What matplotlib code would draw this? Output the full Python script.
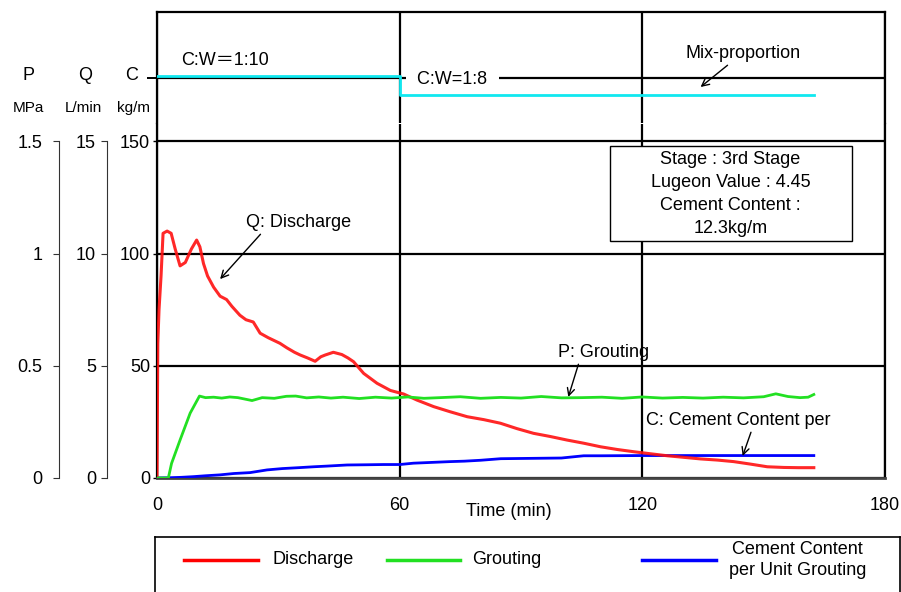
import matplotlib
matplotlib.use("Agg")
import matplotlib.pyplot as plt
from matplotlib.patches import Rectangle

plt.rcParams["font.family"] = ["Liberation Sans", "Noto Sans CJK JP"]

# elapsed time (min) and readings
time_q = [0, 0.2, 0.5, 1.0, 1.5, 2.5, 3.5, 4.5, 5.7, 7.0, 8.5, 9.8, 10.6, 11.5,
          12.5, 14.0, 15.6, 17.2, 18.5, 20.5, 22.0, 23.8, 25.5, 27.5, 30.4, 32.1,
          34.0, 35.4, 37.2, 39.1, 40.5, 41.6, 43.6, 45.7, 47.2, 48.6, 51.1, 54.4,
          57.7, 61.0, 64.3, 68.4, 72.5, 76.7, 80.8, 84.9, 89.0, 93.1, 97.2, 101.4,
          105.5, 109.7, 113.8, 117.9, 122.0, 126.2, 130.3, 134.4, 138.5, 142.6,
          146.7, 150.9, 155.0, 158.6, 162.4]
discharge = [0, 6.0, 7.5, 9.0, 10.9, 11.0, 10.9, 10.2, 9.45, 9.6, 10.2, 10.6, 10.3,
             9.55, 9.0, 8.5, 8.1, 7.95, 7.65, 7.25, 7.05, 6.95, 6.45, 6.25, 6.0, 5.8,
             5.6, 5.48, 5.35, 5.2, 5.4, 5.48, 5.6, 5.5, 5.35, 5.18, 4.66, 4.22, 3.9,
             3.74, 3.47, 3.18, 2.95, 2.73, 2.6, 2.44, 2.2, 1.99, 1.85, 1.69, 1.55,
             1.39, 1.27, 1.17, 1.08, 0.99, 0.92, 0.85, 0.8, 0.73, 0.62, 0.5, 0.47,
             0.46, 0.46]  # L/min

time_p = [0, 2.8, 3.6, 5.7, 8.2, 10.5, 12, 14, 16, 18, 20, 23.5, 26, 29, 32, 34.3,
          37, 40, 43, 46, 50, 54, 58, 62, 66, 70, 75, 80, 85, 90, 95, 100, 105, 110,
          115, 120, 125, 130, 135, 140, 145, 150, 153, 156, 159, 161, 162.4]
pressure = [0, 0, 0.065, 0.169, 0.289, 0.365, 0.358, 0.360, 0.356, 0.361, 0.358,
            0.345, 0.358, 0.355, 0.364, 0.365, 0.357, 0.361, 0.356, 0.360, 0.354,
            0.360, 0.356, 0.361, 0.355, 0.358, 0.362, 0.355, 0.359, 0.356, 0.363,
            0.357, 0.358, 0.360, 0.355, 0.361, 0.356, 0.359, 0.356, 0.360, 0.357,
            0.362, 0.375, 0.363, 0.358, 0.360, 0.372]  # MPa

time_c = [0, 3, 6, 9, 12, 15.6, 19, 23, 27.2, 31, 35, 38.7, 42, 47, 52, 56, 60,
          63.4, 66, 72.5, 76, 80, 85, 90, 95, 100, 105.5, 110, 120, 130, 140, 150,
          162.4]
cement = [0, 0.1, 0.3, 0.6, 1.0, 1.4, 2.0, 2.4, 3.6, 4.2, 4.6, 5.0, 5.3, 5.8, 5.9,
          6.0, 6.0, 6.6, 6.8, 7.3, 7.5, 7.9, 8.6, 8.7, 8.8, 8.9, 9.9, 9.9, 10.0,
          10.0, 10.0, 10.0, 10.0]  # kg/m

# mix proportion C:W = 1:n, n = water parts
mix_time = [0, 60, 162.4]
water_parts = [10, 8, 8]

time_ticks = [0, 60, 120, 180]
c_ticks = [0, 50, 100, 150]
q_ticks = [0, 5, 10, 15]
p_ticks = [0, 0.5, 1, 1.5]

W, H = 901, 592
fig = plt.figure(figsize=(W / 100, H / 100), dpi=100)

left, right = 157, 885
grid_kw = dict(color="black", linewidth=1.6)

# lower panel: C axis (kg/m) is the main scale
ax = fig.add_axes([left / W, (H - 478) / H, (right - left) / W, 354 / H])
ax.set_xlim(0, 180)
ax.set_ylim(0, 157.7)
ax.set_xticks(time_ticks)
ax.set_yticks(c_ticks)
ax.grid(True, **grid_kw)
ax.tick_params(axis="x", length=0, pad=14, labelsize=13)
ax.tick_params(axis="y", length=3, pad=2, labelsize=13, width=1)
for side in ["left", "right"]:
    ax.spines[side].set_linewidth(1.6)
ax.spines["bottom"].set_linewidth(2)
ax.spines["bottom"].set_color("#444444")
ax.spines["top"].set_visible(False)
ax.plot(time_c, cement, color="#0000ff", linewidth=2, zorder=3)

# Q axis (L/min)
ax_q = ax.twinx()
ax_q.set_ylim(0, 15.77)
ax_q.set_yticks(q_ticks)
ax_q.yaxis.set_ticks_position("left")
ax_q.yaxis.set_label_position("left")
for side in ["top", "bottom", "right"]:
    ax_q.spines[side].set_visible(False)
ax_q.spines["left"].set_position(("outward", 36))
ax_q.spines["left"].set_bounds(0, 15)
ax_q.spines["left"].set_color("#333333")
ax_q.tick_params(axis="y", length=4, pad=4, labelsize=13, color="#333333")
ax_q.plot(time_q, discharge, color="#ff1010", linewidth=2.2, alpha=0.9)

# P axis (MPa)
ax_p = ax.twinx()
ax_p.set_ylim(0, 1.577)
ax_p.set_yticks(p_ticks)
ax_p.set_yticklabels(["0", "0.5", "1", "1.5"])
ax_p.yaxis.set_ticks_position("left")
ax_p.yaxis.set_label_position("left")
for side in ["top", "bottom", "right"]:
    ax_p.spines[side].set_visible(False)
ax_p.spines["left"].set_position(("outward", 70.5))
ax_p.spines["left"].set_bounds(0, 1.5)
ax_p.spines["left"].set_color("#333333")
ax_p.tick_params(axis="y", length=4, pad=8, labelsize=13, color="#333333")
ax_p.plot(time_p, pressure, color="#22e022", linewidth=2)

# upper panel: mix proportion
ax_mix = fig.add_axes([left / W, (H - 123) / H, (right - left) / W, 111 / H])
ax_mix.set_xlim(0, 180)
ax_mix.set_ylim(5.05, 16.74)
ax_mix.set_xticks(time_ticks)
ax_mix.set_yticks([9.79])
ax_mix.set_yticklabels([])
ax_mix.set_xticklabels([])
ax_mix.grid(True, **grid_kw)
ax_mix.tick_params(axis="x", length=0)
ax_mix.tick_params(axis="y", length=7, width=1.4)
for side in ["left", "right", "top"]:
    ax_mix.spines[side].set_linewidth(1.6)
ax_mix.spines["bottom"].set_visible(False)
ax_mix.plot(mix_time, water_parts, drawstyle="steps-post", color="#10e8f0",
            linewidth=2, zorder=4)

ax_mix.text(16.8, 11.58, "C:W＝1:10", fontsize=13, ha="center", va="center")
ax_mix.text(73.0, 9.58, "  C:W=1:8  ", fontsize=13, ha="center", va="center",
            bbox=dict(facecolor="white", edgecolor="none", pad=1), zorder=3)
ax_mix.annotate("Mix-proportion", xy=(134.4, 8.84), xytext=(145.0, 12.32),
                fontsize=13, ha="center", va="center",
                arrowprops=dict(arrowstyle="->", color="black", lw=1,
                                relpos=(0.41, 0.1), shrinkA=0, shrinkB=0))

# curve labels
arrow_kw = dict(arrowstyle="->", color="black", lw=1, shrinkA=0, shrinkB=0)
ax.annotate("Q: Discharge", xy=(15.6, 88.6), xytext=(34.9, 113.6), fontsize=13,
            ha="center", va="center", arrowprops=dict(relpos=(0.18, 0.1), **arrow_kw))
ax.annotate("P: Grouting", xy=(101.7, 36.1), xytext=(110.4, 55.7), fontsize=13,
            ha="center", va="center", arrowprops=dict(relpos=(0.24, 0.1), **arrow_kw))
ax.annotate("C: Cement Content per", xy=(144.8, 9.8), xytext=(143.6, 25.4),
            fontsize=13, ha="center", va="center",
            arrowprops=dict(relpos=(0.58, 0.1), **arrow_kw))

# summary box
ax.add_patch(Rectangle((111.9, 105.6), 59.9, 42.3, facecolor="white",
                       edgecolor="black", linewidth=1, zorder=3))
ax.text(141.8, 126.5, "Stage : 3rd Stage\nLugeon Value : 4.45\nCement Content :\n12.3kg/m",
        fontsize=13, ha="center", va="center", multialignment="center",
        linespacing=1.45, zorder=4)

# axis headers
for x, s in [(28, "P"), (85, "Q"), (132, "C")]:
    fig.text(x / W, 1 - 76 / H, s, fontsize=13, ha="center", va="center")
for x, s in [(28, "MPa"), (83, "L/min"), (133, "kg/m")]:
    fig.text(x / W, 1 - 108 / H, s, fontsize=11, ha="center", va="center")
fig.text(509 / W, 1 - 512 / H, "Time (min)", fontsize=13, ha="center", va="center")

# legend strip
ax_leg = fig.add_axes([155 / W, 0, 745 / W, 55 / H])
ax_leg.set_xlim(155, 900)
ax_leg.set_ylim(592, 537)
ax_leg.set_xticks([])
ax_leg.set_yticks([])
ax_leg.spines["bottom"].set_visible(False)
for side in ["left", "top", "right"]:
    ax_leg.spines[side].set_linewidth(1.2)
legend_items = [((184, 258), "#ff0000", 272, "Discharge"),
                ((387, 460), "#22e022", 472, "Grouting"),
                ((642, 716), "#0000ff", 729, "Cement Content\nper Unit Grouting")]
for (x0, x1), color, tx, label in legend_items:
    ax_leg.plot([x0, x1], [560, 560], color=color, linewidth=2.5)
    ax_leg.text(tx, 560, label, fontsize=13, ha="left", va="center",
                multialignment="center", linespacing=1.35)

fig.savefig("out.png", dpi=100)
